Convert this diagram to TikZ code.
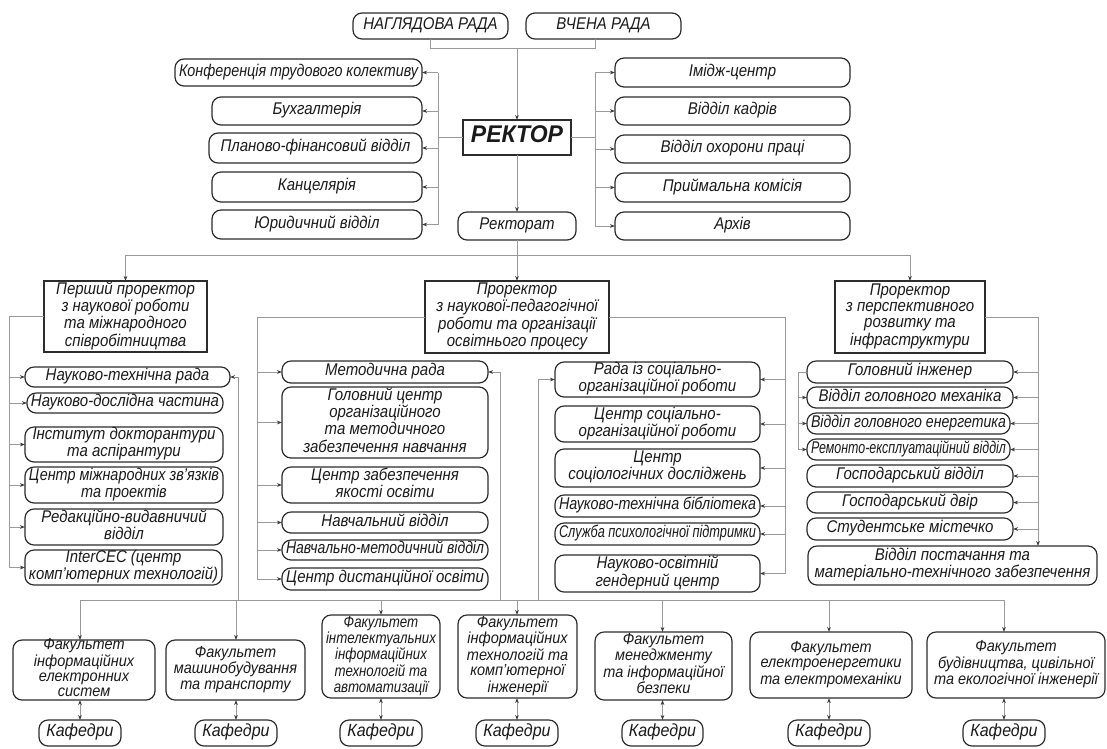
\documentclass[tikz,border=0pt]{standalone}
\usepackage{fontspec}
\setmainfont{Liberation Sans}
\usepackage{graphicx}
\usetikzlibrary{arrows.meta,calc}
\definecolor{boxc}{HTML}{2C2C2C}
\definecolor{linec}{HTML}{9A9A9A}
\definecolor{arrc}{HTML}{3A3A3A}
\definecolor{txtc}{HTML}{1A1A1A}
\newsavebox\fitbox
\def\vsc{1.13}
\newcommand\fitin[2]{%
  \sbox\fitbox{#2}%
  \ifdim\wd\fitbox>#1\relax\sbox\fitbox{\resizebox{#1}{\height}{\usebox\fitbox}}\fi
  \sbox\fitbox{\scalebox{1}[\vsc]{\usebox\fitbox}}%
  \raisebox{\dimexpr(\dp\fitbox-\ht\fitbox)/2\relax}[0pt][0pt]{\usebox\fitbox}}
\newcommand\bx[7]{%
  \pgfmathsetlengthmacro\bxw{(#5)-(#3)-8}%
  \node[#1, minimum width={(#5)-(#3)}, minimum height={(#6)-(#4)}] (#2)
    at ({((#3)+(#5))/2},{((#4)+(#6))/2})
    {\fitin{\bxw}{\begin{tabular}{@{}c@{}}#7\end{tabular}}};}
\tikzset{
  boxbase/.style={draw=boxc, line width=1.2pt, fill=white, inner sep=0pt, outer sep=0pt,
    text=txtc, font=\itshape\fontsize{15}{14.2}\selectfont},
  rb/.style={boxbase, rounded corners=9pt},
  sb/.style={boxbase},
  fb/.style={boxbase, rounded corners=9pt, font=\def\vsc{1.1}\itshape\fontsize{14.5}{14}\selectfont},
  kb/.style={boxbase, rounded corners=9pt, font=\def\vsc{1.1}\itshape\fontsize{16}{16}\selectfont},
  conn/.style={draw=linec, line width=0.9pt},
  arr/.style={conn, -{Stealth[length=5pt,width=3.6pt,color=arrc]}},
  darr/.style={conn, {Stealth[length=5pt,width=3.6pt,color=arrc]}-{Stealth[length=5pt,width=3.6pt,color=arrc]}},
}
\begin{document}
\begin{tikzpicture}[x=1pt,y=-1pt]
\fill[white] (0,0) rectangle (1107,748);
\useasboundingbox (0,0) rectangle (1107,748);

% top
\bx{rb,font=\itshape\fontsize{15}{15}\selectfont}{nr}{353}{13}{508}{39}{НАГЛЯДОВА РАДА}
\bx{rb,font=\itshape\fontsize{15}{15}\selectfont}{vr}{526}{13}{681}{39}{ВЧЕНА РАДА}
\bx{sb,font=\def\vsc{1.05}\bfseries\itshape\fontsize{23}{24}\selectfont}{rek}{463}{120}{571}{155}{РЕКТОР}

\bx{rb}{konf}{175}{59}{422}{86}{Конференція трудового колективу}
\bx{rb}{buh}{212}{97}{422}{125}{Бухгалтерія}
\bx{rb}{plan}{209}{133}{422}{163}{Планово-фінансовий відділ}
\bx{rb}{kanc}{212}{172}{422}{202}{Канцелярія}
\bx{rb}{yur}{212}{210}{422}{239}{Юридичний відділ}

\bx{rb}{imd}{615}{58}{850}{87}{Імідж-центр}
\bx{rb}{kad}{615}{97}{850}{125}{Відділ кадрів}
\bx{rb}{ohr}{615}{135}{850}{163}{Відділ охорони праці}
\bx{rb}{prm}{615}{173}{850}{202}{Приймальна комісія}
\bx{rb}{arh}{615}{212}{850}{240}{Архів}

\bx{rb}{rktt}{458}{212}{576}{240}{Ректорат}

% prorectors
\bx{sb}{p1}{44}{281}{207}{352}{Перший проректор\\з наукової роботи\\та міжнародного\\співробітництва}
\bx{sb}{p2}{425}{281}{609}{353}{Проректор\\з наукової-педагогічної\\роботи та організації\\освітнього процесу}
\bx{sb}{p3}{835}{281}{985}{353}{Проректор\\з перспективного\\розвитку та\\інфраструктури}

% left column
\bx{rb}{a1}{25}{367}{230}{387}{Науково-технічна рада}
\bx{rb}{a2}{27}{393}{223}{413}{Науково-дослідна частина}
\bx{rb}{a3}{25}{427}{223}{462}{Інститут докторантури\\та аспірантури}
\bx{rb}{a4}{25}{467}{223}{503}{Центр міжнародних зв'язків\\та проектів}
\bx{rb}{a5}{25}{509}{223}{545}{Редакційно-видавничий\\відділ}
\bx{rb}{a6}{25}{550}{222}{585}{InterCEC (центр\\комп'ютерних технологій)}

% center-left column
\bx{rb}{b1}{282}{361}{488}{383}{Методична рада}
\bx{rb}{b2}{282}{387}{488}{458}{Головний центр\\організаційного\\та методичного\\забезпечення навчання}
\bx{rb}{b3}{282}{467}{488}{503}{Центр забезпечення\\якості освіти}
\bx{rb}{b4}{282}{512}{488}{533}{Навчальний відділ}
\bx{rb}{b5}{282}{540}{488}{560}{Навчально-методичний відділ}
\bx{rb}{b6}{282}{568}{488}{590}{Центр дистанційної освіти}

% center-right column
\bx{rb}{c1}{555}{362}{760}{397}{Рада із соціально-\\організаційної роботи}
\bx{rb}{c2}{555}{406}{760}{442}{Центр соціально-\\організаційної роботи}
\bx{rb}{c3}{555}{449}{760}{487}{Центр\\соціологічних досліджень}
\bx{rb}{c4}{555}{495}{760}{517}{Науково-технічна бібліотека}
\bx{rb}{c5}{555}{523}{760}{545}{Служба психологічної підтримки}
\bx{rb}{c6}{555}{555}{760}{592}{Науково-освітній\\гендерний центр}

% right column
\bx{rb}{d1}{807}{361}{1013}{383}{Головний інженер}
\bx{rb}{d2}{807}{387}{1013}{408}{Відділ головного механіка}
\bx{rb}{d3}{807}{413}{1010}{434}{Відділ головного енергетика}
\bx{rb}{d4}{807}{439}{1010}{460}{Ремонто-експлуатаційний відділ}
\bx{rb}{d5}{807}{465}{1013}{487}{Господарський відділ}
\bx{rb}{d6}{807}{492}{1013}{513}{Господарський двір}
\bx{rb}{d7}{807}{518}{1013}{540}{Студентське містечко}
\bx{rb}{d8}{808}{546}{1097}{585}{Відділ постачання та\\матеріально-технічного забезпечення}

% faculties
\bx{fb}{f1}{13}{640}{155}{700}{Факультет\\інформаційних\\електронних\\систем}
\bx{fb}{f2}{166}{640}{305}{700}{Факультет\\машинобудування\\та транспорту}
\bx{fb}{f3}{322}{615}{440}{698}{Факультет\\інтелектуальних\\інформаційних\\технологій та\\автоматизації}
\bx{fb}{f4}{458}{615}{577}{698}{Факультет\\інформаційних\\технологій та\\комп'ютерної\\інженерії}
\bx{fb}{f5}{595}{632}{732}{700}{Факультет\\менеджменту\\та інформаційної\\безпеки}
\bx{fb}{f6}{750}{632}{912}{698}{Факультет\\електроенергетики\\та електромеханіки}
\bx{fb}{f7}{927}{632}{1105}{698}{Факультет\\будівництва, цивільної\\та екологічної інженерії}

\bx{kb}{k1}{39}{720}{121}{746}{Кафедри}
\bx{kb}{k2}{195}{720}{277}{746}{Кафедри}
\bx{kb}{k3}{340}{720}{422}{746}{Кафедри}
\bx{kb}{k4}{476}{720}{558}{746}{Кафедри}
\bx{kb}{k5}{622}{720}{703}{746}{Кафедри}
\bx{kb}{k6}{788}{720}{870}{746}{Кафедри}
\bx{kb}{k7}{963}{720}{1045}{746}{Кафедри}

% ---- connectors ----
\path (rek.north) ++(0,-72) coordinate (j0);
\draw[conn] (nr.south) |- (j0);
\draw[conn] ([xshift=-8pt]vr.south) |- (j0);
\draw[arr] (j0) -- (rek.north);

\coordinate (lx) at (438,0);
\draw[conn] (rek.west) -- (rek.west -| lx);
\draw[conn] (konf.east -| lx) -- (yur.east -| lx);
\foreach \n in {konf,buh,plan,kanc,yur} \draw[arr] (\n.east -| lx) -- (\n.east);

\coordinate (rx) at (595,0);
\draw[conn] (rek.east) -- (rek.east -| rx);
\draw[conn] (imd.west -| rx) -- (arh.west -| rx);
\foreach \n in {imd,kad,ohr,prm,arh} \draw[arr] (\n.west -| rx) -- (\n.west);

\draw[arr] (rek.south) -- (rktt.north);
\coordinate (pb) at (517,255);
\draw[conn] (rktt.south) -- (pb);
\draw[arr] (pb) -- (p2.north);
\draw[arr] (pb) -| (p1.north);
\draw[arr] (pb) -| (p3.north);

\coordinate (bus) at (0,600);
\coordinate (x1) at (9,0);
\draw[conn] (p1.west) -- (p1.west -| x1) -- (a6.west -| x1);
\foreach \n in {a1,a2,a3,a4,a5,a6} \draw[arr] (\n.west -| x1) -- (\n.west);
\coordinate (x2) at (238,0);
\draw[arr] (x2 |- bus) |- (a1.east);

\coordinate (x3) at (257,0);
\draw[conn] (p2.west) -- (p2.west -| x3) -- (b6.west -| x3);
\foreach \n in {b1,b2,b3,b4,b5,b6} \draw[arr] (\n.west -| x3) -- (\n.west);
\coordinate (x4) at (500,0);
\draw[arr] (x4 |- bus) |- (b1.east);

\coordinate (x5) at (785,0);
\draw[conn] (p2.east) -- (p2.east -| x5) -- (c6.east -| x5);
\foreach \n in {c1,c2,c3,c4,c5,c6} \draw[arr] (\n.east -| x5) -- (\n.east);
\coordinate (x6) at (538,0);
\draw[arr] (x6 |- bus) |- (c1.west);

\coordinate (x7) at (1038,0);
\draw[conn] (p3.east) -- (p3.east -| x7) -- (d7.east -| x7);
\foreach \n in {d1,d2,d3,d4,d5,d6,d7} \draw[arr] (\n.east -| x7) -- (\n.east);
\draw[arr] (d7.east -| x7) -- (d8.north -| x7);
\coordinate (x8) at (798,0);
\draw[conn] (d1.west) -- (d1.west -| x8) -- (d4.west -| x8);
\foreach \n in {d2,d3,d4} \draw[arr] (\n.west -| x8) -- (\n.west);

\draw[conn] (k1.north |- bus) -- (k7.north |- bus);
\foreach \i in {1,...,7} {
  \draw[arr] (k\i.north |- bus) -- (k\i.north |- f\i.north);
  \draw[darr] (k\i.north |- f\i.south) -- (k\i.north);
}
\end{tikzpicture}
\end{document}
